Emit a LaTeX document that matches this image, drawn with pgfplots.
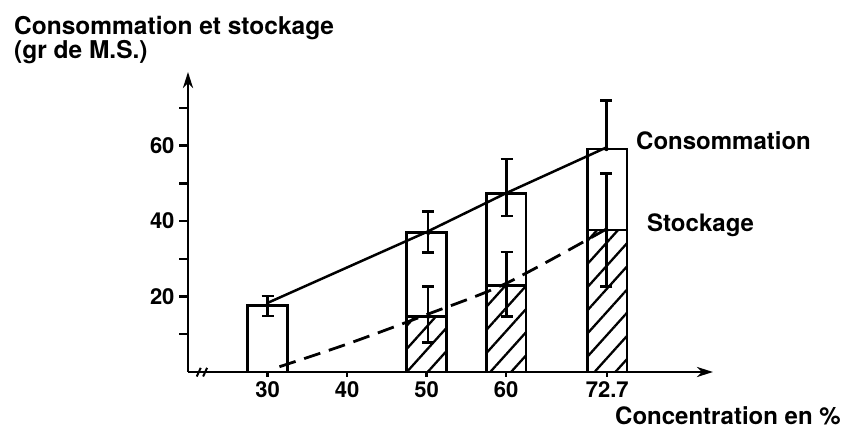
\documentclass[border=0pt]{standalone}
\usepackage{fontspec}
\setmainfont{TeX Gyre Heros}
\usepackage{pgfplots}
\pgfplotsset{compat=1.18}
\usetikzlibrary{patterns.meta, arrows.meta}

\begin{document}
\begin{tikzpicture}
\useasboundingbox (0pt,0pt) rectangle (843pt,430pt);
\begin{axis}[
  at={(188pt,58pt)}, anchor=south west,
  scale only axis, width=525pt, height=300pt,
  xmin=20, xmax=86, ymin=0, ymax=79.5,
  axis lines=left,
  clip=false,
  axis line style={line width=2.8pt, -{Stealth[length=16pt,width=10pt,inset=5pt]}},
  tick align=outside,
  major tick length=9pt,
  tick style={black, line width=2.4pt},
  xtick={30,40,50,60,72.7},
  xticklabels={30,40,50,60,72.7},
  ytick={10,20,30,40,50,60,70},
  yticklabels={,20,,40,,60,},
  xtick style={/pgfplots/major tick length=5pt},
  /pgf/number format/assume math mode=true,
  ticklabel style={font=\fontsize{22}{22}\selectfont\bfseries},
  xticklabel style={yshift=3pt},
  yticklabel style={xshift=-1pt},
]
% consumption bars
\addplot[ybar, bar width=5, bar shift=0pt, draw=black, line width=2.7pt, fill=white]
  coordinates {(30,17.7) (50,36.9) (60,47.3) (72.7,59.1)};
% storage bars (hatched)
\addplot[ybar, bar width=5, bar shift=0pt, draw=black, line width=2.7pt,
  pattern={Lines[angle=48,distance=15.5pt,line width=2.3pt]}]
  coordinates {(50,14.7) (60,23.0) (72.7,37.6)};
% consumption line
\addplot[black, line width=2.5pt] coordinates {(30,18.3) (50,37.1) (60,47.4) (72.7,59.6)};
% storage curve
\addplot[black, line width=2.8pt, dash pattern=on 17pt off 9pt, smooth]
  coordinates {(31.5,1.4) (40,7.4) (50,15.2) (60,23.5) (72.7,38)};
% error bars consumption
\addplot[black, only marks, mark=none, error bars/.cd, y dir=both, y explicit,
  error bar style={draw=black, solid, line width=2.5pt},
  error mark options={draw=black, solid, line width=2.5pt, mark size=6pt, rotate=90}]
  coordinates {(30,17.7) += (0,2.4) -= (0,2.9)
               (50.2,36.9) += (0,5.6) -= (0,5.3)
               (60.06,47.3) += (0,9.1) -= (0,5.9)};
\addplot[black, only marks, mark=none, error bars/.cd, y dir=plus, y explicit,
  error bar style={draw=black, solid, line width=2.5pt},
  error mark options={draw=black, solid, line width=2.5pt, mark size=6pt, rotate=90}]
  coordinates {(72.6,59.1) += (0,12.8) -= (0,0)};
% error bars storage
\addplot[black, only marks, mark=none, error bars/.cd, y dir=both, y explicit,
  error bar style={draw=black, solid, line width=2.5pt},
  error mark options={draw=black, solid, line width=2.5pt, mark size=6pt, rotate=90}]
  coordinates {(50.2,14.7) += (0,7.9) -= (0,6.9)
               (60.06,23.0) += (0,8.8) -= (0,8.3)
               (72.6,37.6) += (0,15.0) -= (0,15.0)};
% axis break
\draw[black, line width=2pt] (axis cs:21.1,-1.2) -- (axis cs:21.6,1.1);
\draw[black, line width=2pt] (axis cs:21.9,-1.2) -- (axis cs:22.4,1.1);
\end{axis}
\node[anchor=base west, inner sep=0pt, font=\fontsize{24.5}{24.5}\selectfont\bfseries] at (14pt,395pt) {Consommation et stockage};
\node[anchor=base west, inner sep=0pt, font=\fontsize{24.5}{24.5}\selectfont\bfseries] at (14pt,371pt) {(gr de M.S.)};
\node[anchor=base west, inner sep=0pt, font=\fontsize{24}{24}\selectfont\bfseries] at (636pt,280pt) {Consommation};
\node[anchor=base west, inner sep=0pt, font=\fontsize{24}{24}\selectfont\bfseries] at (647pt,198pt) {Stockage};
\node[anchor=base west, inner sep=0pt, font=\fontsize{24}{24}\selectfont\bfseries] at (615pt,5pt) {Concentration en \%};
\end{tikzpicture}
\end{document}
